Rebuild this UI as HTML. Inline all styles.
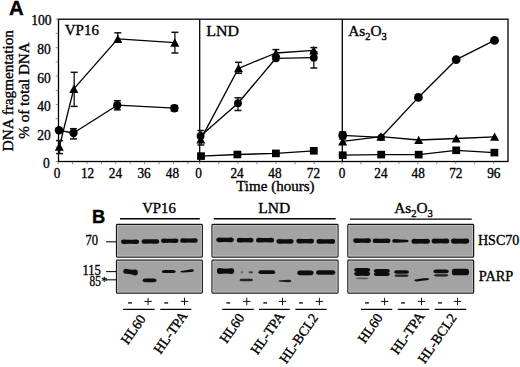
<!DOCTYPE html>
<html><head><meta charset="utf-8"><style>
html,body{margin:0;padding:0;background:#fff;}
body{width:520px;height:367px;overflow:hidden;}
svg{display:block;}
.s{font-family:"Liberation Serif", serif;fill:#000;stroke:#000;stroke-width:0.35px;}
.b{font-family:"Liberation Sans", sans-serif;font-weight:bold;fill:#000;stroke:#000;stroke-width:0.4px;}
</style></head><body>
<svg width="520" height="367" viewBox="0 0 520 367">

<text class="b" font-size="19.5" transform="translate(9.05,14.70) scale(1.046,0.993)">A</text>
<text class="s" font-size="15.2" text-anchor="middle" transform="translate(13.1,90.6) rotate(-90)">DNA fragmentation</text>
<text class="s" font-size="15.2" text-anchor="middle" transform="translate(29.3,90.5) rotate(-90)">% of total DNA</text>
<text class="s" font-size="14.5" transform="translate(64.77,34.70) scale(1.034,0.960)">VP16</text>
<text class="s" font-size="14.5" transform="translate(206.30,35.80) scale(1.100,1.030)">LND</text>
<text class="s" font-size="14.5" transform="translate(348.24,36.21) scale(1.057,0.996)">As<tspan font-size="10" dy="4.00">2</tspan><tspan dy="-4.00">O</tspan><tspan font-size="10" dy="4.00">3</tspan></text>
<text class="s" font-size="14" text-anchor="end" transform="translate(51.6,25.30) scale(0.97,1.0)">100</text>
<text class="s" font-size="14" text-anchor="end" transform="translate(50.9,54.30) scale(0.97,1.0)">80</text>
<text class="s" font-size="14" text-anchor="end" transform="translate(50.9,82.80) scale(0.97,1.0)">60</text>
<text class="s" font-size="14" text-anchor="end" transform="translate(50.9,110.90) scale(0.97,1.0)">40</text>
<text class="s" font-size="14" text-anchor="end" transform="translate(50.9,139.80) scale(0.97,1.0)">20</text>
<text class="s" font-size="14" text-anchor="end" transform="translate(49.7,168.00) scale(0.97,1.0)">0</text>
<text class="s" font-size="14" text-anchor="middle" transform="translate(57.00,177.6) scale(0.95,1.0)">0</text>
<text class="s" font-size="14" text-anchor="middle" transform="translate(87.60,177.6) scale(0.95,1.0)">12</text>
<text class="s" font-size="14" text-anchor="middle" transform="translate(115.40,177.6) scale(0.95,1.0)">24</text>
<text class="s" font-size="14" text-anchor="middle" transform="translate(144.10,177.6) scale(0.95,1.0)">36</text>
<text class="s" font-size="14" text-anchor="middle" transform="translate(172.50,177.6) scale(0.95,1.0)">48</text>
<text class="s" font-size="14" text-anchor="middle" transform="translate(198.50,177.6) scale(0.95,1.0)">0</text>
<text class="s" font-size="14" text-anchor="middle" transform="translate(237.10,177.6) scale(0.95,1.0)">24</text>
<text class="s" font-size="14" text-anchor="middle" transform="translate(275.00,177.6) scale(0.95,1.0)">48</text>
<text class="s" font-size="14" text-anchor="middle" transform="translate(313.40,177.6) scale(0.95,1.0)">72</text>
<text class="s" font-size="14" text-anchor="middle" transform="translate(342.00,177.6) scale(0.95,1.0)">0</text>
<text class="s" font-size="14" text-anchor="middle" transform="translate(381.00,177.6) scale(0.95,1.0)">24</text>
<text class="s" font-size="14" text-anchor="middle" transform="translate(418.20,177.6) scale(0.95,1.0)">48</text>
<text class="s" font-size="14" text-anchor="middle" transform="translate(455.80,177.6) scale(0.95,1.0)">72</text>
<text class="s" font-size="14" text-anchor="middle" transform="translate(493.80,177.6) scale(0.95,1.0)">96</text>
<text class="s" font-size="15" transform="translate(236.20,191.01) scale(1.003,1.031)">Time (hours)</text>
<g stroke="#000" stroke-width="1.3" fill="none">
<rect x="58.5" y="19.2" width="449.5" height="142.3"/>
<line x1="199.7" y1="19.2" x2="199.7" y2="161.5"/>
<line x1="342.3" y1="19.2" x2="342.3" y2="161.5"/>
</g>
<g stroke="#555" stroke-width="0.7">
<line x1="55.7" y1="161.50" x2="58.5" y2="161.50"/>
<line x1="55.7" y1="147.27" x2="58.5" y2="147.27"/>
<line x1="55.7" y1="133.04" x2="58.5" y2="133.04"/>
<line x1="55.7" y1="118.81" x2="58.5" y2="118.81"/>
<line x1="55.7" y1="104.58" x2="58.5" y2="104.58"/>
<line x1="55.7" y1="90.35" x2="58.5" y2="90.35"/>
<line x1="55.7" y1="76.12" x2="58.5" y2="76.12"/>
<line x1="55.7" y1="61.89" x2="58.5" y2="61.89"/>
<line x1="55.7" y1="47.66" x2="58.5" y2="47.66"/>
<line x1="55.7" y1="33.43" x2="58.5" y2="33.43"/>
<line x1="55.7" y1="19.20" x2="58.5" y2="19.20"/>
<line x1="58.20" y1="161.5" x2="58.20" y2="164.1"/>
<line x1="72.60" y1="161.5" x2="72.60" y2="164.1"/>
<line x1="87.00" y1="161.5" x2="87.00" y2="164.1"/>
<line x1="101.40" y1="161.5" x2="101.40" y2="164.1"/>
<line x1="115.80" y1="161.5" x2="115.80" y2="164.1"/>
<line x1="130.20" y1="161.5" x2="130.20" y2="164.1"/>
<line x1="144.60" y1="161.5" x2="144.60" y2="164.1"/>
<line x1="159.00" y1="161.5" x2="159.00" y2="164.1"/>
<line x1="173.40" y1="161.5" x2="173.40" y2="164.1"/>
<line x1="187.80" y1="161.5" x2="187.80" y2="164.1"/>
<line x1="199.70" y1="161.5" x2="199.70" y2="164.1"/>
<line x1="218.78" y1="161.5" x2="218.78" y2="164.1"/>
<line x1="237.86" y1="161.5" x2="237.86" y2="164.1"/>
<line x1="256.94" y1="161.5" x2="256.94" y2="164.1"/>
<line x1="276.02" y1="161.5" x2="276.02" y2="164.1"/>
<line x1="295.10" y1="161.5" x2="295.10" y2="164.1"/>
<line x1="314.18" y1="161.5" x2="314.18" y2="164.1"/>
<line x1="342.00" y1="161.5" x2="342.00" y2="164.1"/>
<line x1="360.96" y1="161.5" x2="360.96" y2="164.1"/>
<line x1="379.92" y1="161.5" x2="379.92" y2="164.1"/>
<line x1="398.88" y1="161.5" x2="398.88" y2="164.1"/>
<line x1="417.84" y1="161.5" x2="417.84" y2="164.1"/>
<line x1="436.80" y1="161.5" x2="436.80" y2="164.1"/>
<line x1="455.76" y1="161.5" x2="455.76" y2="164.1"/>
<line x1="474.72" y1="161.5" x2="474.72" y2="164.1"/>
<line x1="493.68" y1="161.5" x2="493.68" y2="164.1"/>
</g>
<polyline fill="none" stroke="#000" stroke-width="1.35" stroke-linejoin="round" points="59.00,130.30 73.50,133.00 117.30,105.20 174.40,108.20"/>
<polyline fill="none" stroke="#000" stroke-width="1.35" stroke-linejoin="round" points="59.30,146.80 73.80,88.90 117.80,38.90 174.80,42.70"/>
<line x1="73.50" y1="128.70" x2="73.50" y2="138.90" stroke="#111" stroke-width="1.3"/><line x1="70.00" y1="128.70" x2="77.00" y2="128.70" stroke="#111" stroke-width="1.5"/><line x1="70.00" y1="138.90" x2="77.00" y2="138.90" stroke="#111" stroke-width="1.5"/>
<line x1="117.30" y1="100.70" x2="117.30" y2="109.90" stroke="#111" stroke-width="1.3"/><line x1="113.80" y1="100.70" x2="120.80" y2="100.70" stroke="#111" stroke-width="1.5"/><line x1="113.80" y1="109.90" x2="120.80" y2="109.90" stroke="#111" stroke-width="1.5"/>
<line x1="174.40" y1="105.50" x2="174.40" y2="110.90" stroke="#111" stroke-width="1.3"/><line x1="170.70" y1="105.50" x2="178.10" y2="105.50" stroke="#111" stroke-width="1.5"/><line x1="170.70" y1="110.90" x2="178.10" y2="110.90" stroke="#111" stroke-width="1.5"/>
<line x1="59.60" y1="140.60" x2="59.60" y2="153.60" stroke="#111" stroke-width="1.3"/><line x1="56.10" y1="140.60" x2="63.10" y2="140.60" stroke="#111" stroke-width="1.5"/><line x1="56.10" y1="153.60" x2="63.10" y2="153.60" stroke="#111" stroke-width="1.5"/>
<line x1="74.20" y1="72.30" x2="74.20" y2="106.40" stroke="#111" stroke-width="1.3"/><line x1="70.70" y1="72.30" x2="77.70" y2="72.30" stroke="#111" stroke-width="1.5"/><line x1="70.70" y1="106.40" x2="77.70" y2="106.40" stroke="#111" stroke-width="1.5"/>
<line x1="117.80" y1="32.80" x2="117.80" y2="42.00" stroke="#111" stroke-width="1.3"/><line x1="114.30" y1="32.80" x2="121.30" y2="32.80" stroke="#111" stroke-width="1.5"/><line x1="114.30" y1="42.00" x2="121.30" y2="42.00" stroke="#111" stroke-width="1.5"/>
<line x1="174.90" y1="32.30" x2="174.90" y2="53.00" stroke="#111" stroke-width="1.3"/><line x1="171.40" y1="32.30" x2="178.40" y2="32.30" stroke="#111" stroke-width="1.5"/><line x1="171.40" y1="53.00" x2="178.40" y2="53.00" stroke="#111" stroke-width="1.5"/>
<circle cx="59.00" cy="130.30" r="4.2" fill="#000"/>
<circle cx="73.50" cy="133.00" r="4.2" fill="#000"/>
<circle cx="117.30" cy="105.20" r="4.2" fill="#000"/>
<circle cx="174.40" cy="108.20" r="4.2" fill="#000"/>
<path d="M59.30,142.43 L63.80,150.83 L54.80,150.83Z" fill="#000"/>
<path d="M73.80,84.53 L78.30,92.93 L69.30,92.93Z" fill="#000"/>
<path d="M117.80,34.53 L122.30,42.93 L113.30,42.93Z" fill="#000"/>
<path d="M174.80,38.33 L179.30,46.73 L170.30,46.73Z" fill="#000"/>
<polyline fill="none" stroke="#000" stroke-width="1.35" stroke-linejoin="round" points="200.60,136.00 238.00,103.20 275.90,58.30 313.80,57.70"/>
<polyline fill="none" stroke="#000" stroke-width="1.35" stroke-linejoin="round" points="200.80,139.40 238.50,68.30 275.90,53.00 313.80,50.40"/>
<polyline fill="none" stroke="#000" stroke-width="1.35" stroke-linejoin="round" points="201.00,156.10 237.40,154.50 275.90,153.40 313.80,150.80"/>
<line x1="238.50" y1="62.30" x2="238.50" y2="73.30" stroke="#111" stroke-width="1.3"/><line x1="235.00" y1="62.30" x2="242.00" y2="62.30" stroke="#111" stroke-width="1.5"/><line x1="235.00" y1="73.30" x2="242.00" y2="73.30" stroke="#111" stroke-width="1.5"/>
<line x1="238.00" y1="97.80" x2="238.00" y2="110.50" stroke="#111" stroke-width="1.3"/><line x1="234.50" y1="97.80" x2="241.50" y2="97.80" stroke="#111" stroke-width="1.5"/><line x1="234.50" y1="110.50" x2="241.50" y2="110.50" stroke="#111" stroke-width="1.5"/>
<line x1="313.80" y1="52.00" x2="313.80" y2="68.00" stroke="#111" stroke-width="1.3"/><line x1="310.30" y1="52.00" x2="317.30" y2="52.00" stroke="#111" stroke-width="1.5"/><line x1="310.30" y1="68.00" x2="317.30" y2="68.00" stroke="#111" stroke-width="1.5"/>
<line x1="275.90" y1="49.60" x2="275.90" y2="55.00" stroke="#111" stroke-width="1.3"/><line x1="272.40" y1="49.60" x2="279.40" y2="49.60" stroke="#111" stroke-width="1.5"/><line x1="272.40" y1="55.00" x2="279.40" y2="55.00" stroke="#111" stroke-width="1.5"/>
<line x1="200.90" y1="130.50" x2="200.90" y2="145.00" stroke="#111" stroke-width="1.3"/><line x1="197.40" y1="130.50" x2="204.40" y2="130.50" stroke="#111" stroke-width="1.5"/><line x1="197.40" y1="145.00" x2="204.40" y2="145.00" stroke="#111" stroke-width="1.5"/>
<line x1="313.80" y1="47.60" x2="313.80" y2="52.00" stroke="#111" stroke-width="1.3"/><line x1="310.30" y1="47.60" x2="317.30" y2="47.60" stroke="#111" stroke-width="1.5"/><line x1="310.30" y1="52.00" x2="317.30" y2="52.00" stroke="#111" stroke-width="1.5"/>
<circle cx="200.60" cy="136.00" r="3.9" fill="#000"/>
<circle cx="238.00" cy="103.20" r="3.9" fill="#000"/>
<circle cx="275.90" cy="58.30" r="3.9" fill="#000"/>
<circle cx="313.80" cy="57.70" r="3.9" fill="#000"/>
<path d="M200.80,135.03 L205.30,143.43 L196.30,143.43Z" fill="#000"/>
<path d="M238.50,63.93 L243.00,72.33 L234.00,72.33Z" fill="#000"/>
<path d="M275.90,48.63 L280.40,57.03 L271.40,57.03Z" fill="#000"/>
<path d="M313.80,46.03 L318.30,54.43 L309.30,54.43Z" fill="#000"/>
<rect x="197.10" y="152.30" width="7.8" height="7.6" fill="#000"/>
<rect x="233.50" y="150.70" width="7.8" height="7.6" fill="#000"/>
<rect x="272.00" y="149.60" width="7.8" height="7.6" fill="#000"/>
<rect x="309.90" y="147.00" width="7.8" height="7.6" fill="#000"/>
<polyline fill="none" stroke="#000" stroke-width="1.35" stroke-linejoin="round" points="342.70,135.40 381.20,137.30 418.40,97.40 456.20,59.70 494.50,40.40"/>
<polyline fill="none" stroke="#000" stroke-width="1.35" stroke-linejoin="round" points="342.70,141.40 380.90,136.70 418.70,140.00 456.20,138.50 494.60,136.80"/>
<polyline fill="none" stroke="#000" stroke-width="1.35" stroke-linejoin="round" points="342.70,155.20 381.20,154.60 418.70,154.60 456.20,150.30 494.40,152.60"/>
<line x1="342.70" y1="131.90" x2="342.70" y2="139.00" stroke="#111" stroke-width="1.3"/><line x1="339.20" y1="131.90" x2="346.20" y2="131.90" stroke="#111" stroke-width="1.5"/><line x1="339.20" y1="139.00" x2="346.20" y2="139.00" stroke="#111" stroke-width="1.5"/>
<circle cx="342.70" cy="135.40" r="4.4" fill="#000"/>
<circle cx="418.40" cy="97.40" r="4.4" fill="#000"/>
<circle cx="456.20" cy="59.70" r="4.4" fill="#000"/>
<circle cx="494.50" cy="40.40" r="4.4" fill="#000"/>
<circle cx="381.20" cy="137.30" r="3.6" fill="#000"/>
<path d="M342.70,137.03 L347.20,145.43 L338.20,145.43Z" fill="#000"/>
<path d="M380.90,132.33 L385.40,140.73 L376.40,140.73Z" fill="#000"/>
<path d="M418.70,135.63 L423.20,144.03 L414.20,144.03Z" fill="#000"/>
<path d="M456.20,134.13 L460.70,142.53 L451.70,142.53Z" fill="#000"/>
<path d="M494.60,132.43 L499.10,140.83 L490.10,140.83Z" fill="#000"/>
<rect x="338.80" y="151.40" width="7.8" height="7.6" fill="#000"/>
<rect x="377.30" y="150.80" width="7.8" height="7.6" fill="#000"/>
<rect x="414.80" y="150.80" width="7.8" height="7.6" fill="#000"/>
<rect x="452.30" y="146.50" width="7.8" height="7.6" fill="#000"/>
<rect x="490.50" y="148.80" width="7.8" height="7.6" fill="#000"/>
<text class="b" font-size="19.5" transform="translate(91.96,222.90) scale(0.942,0.971)">B</text>
<text class="s" font-size="14.5" transform="translate(142.18,213.20) scale(1.022,0.990)">VP16</text>
<text class="s" font-size="14.5" transform="translate(258.33,213.40) scale(1.071,1.010)">LND</text>
<text class="s" font-size="14.5" transform="translate(394.14,212.84) scale(1.057,0.964)">As<tspan font-size="10" dy="4.00">2</tspan><tspan dy="-4.00">O</tspan><tspan font-size="10" dy="4.00">3</tspan></text>
<text class="s" font-size="14" text-anchor="end" transform="translate(98.0,244.7) scale(0.90,1.02)">70</text>
<text class="s" font-size="14" text-anchor="end" transform="translate(100.9,274.6) scale(0.90,1.0)">115</text>
<text class="s" font-size="14" text-anchor="end" transform="translate(100.9,285.5) scale(0.81,0.98)">85</text>
<text class="s" font-size="13" transform="translate(101.5,284.6) scale(0.85,0.9)">*</text>
<text class="s" font-size="14.5" transform="translate(477.93,244.80) scale(0.971,1.020)">HSC70</text>
<text class="s" font-size="14.5" transform="translate(478.76,281.00) scale(0.990,0.960)">PARP</text>
<rect x="116.50" y="224.40" width="85.80" height="32.60" rx="0.8" fill="#a3a3a3" stroke="#151515" stroke-width="1.25"/>
<rect x="117.50" y="225.40" width="83.80" height="30.60" fill="none" stroke="#c4c4c4" stroke-width="0.8"/>
<rect x="116.50" y="260.20" width="85.80" height="32.80" rx="0.8" fill="#a3a3a3" stroke="#151515" stroke-width="1.25"/>
<rect x="117.50" y="261.20" width="83.80" height="30.80" fill="none" stroke="#c4c4c4" stroke-width="0.8"/>
<rect x="212.00" y="224.40" width="126.00" height="32.60" rx="0.8" fill="#a3a3a3" stroke="#151515" stroke-width="1.25"/>
<rect x="213.00" y="225.40" width="124.00" height="30.60" fill="none" stroke="#c4c4c4" stroke-width="0.8"/>
<rect x="212.00" y="260.20" width="126.00" height="32.80" rx="0.8" fill="#a3a3a3" stroke="#151515" stroke-width="1.25"/>
<rect x="213.00" y="261.20" width="124.00" height="30.80" fill="none" stroke="#c4c4c4" stroke-width="0.8"/>
<rect x="347.90" y="224.40" width="125.70" height="32.60" rx="0.8" fill="#a3a3a3" stroke="#151515" stroke-width="1.25"/>
<rect x="348.90" y="225.40" width="123.70" height="30.60" fill="none" stroke="#c4c4c4" stroke-width="0.8"/>
<rect x="347.90" y="260.20" width="125.70" height="32.80" rx="0.8" fill="#a3a3a3" stroke="#151515" stroke-width="1.25"/>
<rect x="348.90" y="261.20" width="123.70" height="30.80" fill="none" stroke="#c4c4c4" stroke-width="0.8"/>
<g stroke="#000" stroke-width="1.4">
<line x1="120" y1="218.8" x2="199.8" y2="218.8"/>
<line x1="213.8" y1="218.8" x2="335.6" y2="218.8"/>
<line x1="350" y1="219.1" x2="471.8" y2="219.1"/>
</g>
<g stroke="#111" stroke-width="1.1">
<line x1="106.1" y1="241.8" x2="116" y2="241.8"/>
<line x1="106.1" y1="271.6" x2="116" y2="271.6"/>
<line x1="106.0" y1="279.8" x2="116" y2="279.8"/>
</g>
<defs><filter id="bl" x="-10%" y="-50%" width="120%" height="200%"><feGaussianBlur stdDeviation="0.45"/></filter></defs>
<g filter="url(#bl)">
<path d="M123.60,239.44 Q130.05,239.85 136.50,239.44 A2.60,2.25 0 0 1 136.50,243.95 Q130.05,243.54 123.60,243.95 A2.60,2.25 0 0 1 123.60,239.44Z" fill="#0a0a0a" opacity="1.0"/>
<path d="M144.20,239.15 Q150.45,239.56 156.70,239.15 A2.60,2.25 0 0 1 156.70,243.66 Q150.45,243.25 144.20,243.66 A2.60,2.25 0 0 1 144.20,239.15Z" fill="#0a0a0a" opacity="1.0"/>
<path d="M163.60,238.55 Q169.75,238.96 175.90,238.55 A2.60,2.25 0 0 1 175.90,243.06 Q169.75,242.65 163.60,243.06 A2.60,2.25 0 0 1 163.60,238.55Z" fill="#0a0a0a" opacity="1.0"/>
<path d="M182.70,238.25 Q188.95,238.66 195.20,238.25 A2.60,2.25 0 0 1 195.20,242.75 Q188.95,242.34 182.70,242.75 A2.60,2.25 0 0 1 182.70,238.25Z" fill="#0a0a0a" opacity="1.0"/>
<path d="M218.70,237.44 Q225.05,237.87 231.40,237.44 A2.60,2.37 0 0 1 231.40,242.17 Q225.05,241.74 218.70,242.17 A2.60,2.37 0 0 1 218.70,237.44Z" fill="#0a0a0a" opacity="1.0"/>
<path d="M239.10,237.83 Q245.10,238.26 251.10,237.83 A2.60,2.37 0 0 1 251.10,242.56 Q245.10,242.13 239.10,242.56 A2.60,2.37 0 0 1 239.10,237.83Z" fill="#0a0a0a" opacity="1.0"/>
<path d="M258.40,237.83 Q265.10,238.26 271.80,237.83 A2.60,2.37 0 0 1 271.80,242.56 Q265.10,242.13 258.40,242.56 A2.60,2.37 0 0 1 258.40,237.83Z" fill="#0a0a0a" opacity="1.0"/>
<path d="M278.80,238.94 Q285.00,239.37 291.20,238.94 A2.60,2.37 0 0 1 291.20,243.67 Q285.00,243.24 278.80,243.67 A2.60,2.37 0 0 1 278.80,238.94Z" fill="#0a0a0a" opacity="1.0"/>
<path d="M299.00,238.73 Q305.20,239.16 311.40,238.73 A2.60,2.37 0 0 1 311.40,243.47 Q305.20,243.03 299.00,243.47 A2.60,2.37 0 0 1 299.00,238.73Z" fill="#0a0a0a" opacity="1.0"/>
<path d="M319.20,239.03 Q325.80,239.47 332.40,239.03 A2.60,2.37 0 0 1 332.40,243.77 Q325.80,243.34 319.20,243.77 A2.60,2.37 0 0 1 319.20,239.03Z" fill="#0a0a0a" opacity="1.0"/>
<path d="M355.90,238.18 Q362.15,238.62 368.40,238.18 A2.60,2.42 0 0 1 368.40,243.02 Q362.15,242.58 355.90,243.02 A2.60,2.42 0 0 1 355.90,238.18Z" fill="#0a0a0a" opacity="1.0"/>
<path d="M375.30,238.49 Q381.55,238.91 387.80,238.49 A2.60,2.31 0 0 1 387.80,243.11 Q381.55,242.69 375.30,243.11 A2.60,2.31 0 0 1 375.30,238.49Z" fill="#0a0a0a" opacity="1.0"/>
<path d="M394.80,239.03 Q400.45,239.62 406.10,239.64 A2.60,1.26 0 0 1 406.10,242.16 Q400.45,242.18 394.80,242.77 A2.60,1.87 0 0 1 394.80,239.03Z" fill="#0a0a0a" opacity="1.0"/>
<path d="M414.10,238.67 Q420.70,239.13 427.30,238.67 A2.60,2.53 0 0 1 427.30,243.73 Q420.70,243.27 414.10,243.73 A2.60,2.53 0 0 1 414.10,238.67Z" fill="#0a0a0a" opacity="1.0"/>
<path d="M434.20,238.47 Q440.45,238.93 446.70,238.47 A2.60,2.53 0 0 1 446.70,243.53 Q440.45,243.07 434.20,243.53 A2.60,2.53 0 0 1 434.20,238.47Z" fill="#0a0a0a" opacity="1.0"/>
<path d="M453.60,238.57 Q460.10,239.03 466.60,238.57 A2.60,2.53 0 0 1 466.60,243.63 Q460.10,243.17 453.60,243.63 A2.60,2.53 0 0 1 453.60,238.57Z" fill="#0a0a0a" opacity="1.0"/>
<path d="M125.90,268.78 Q130.55,270.10 135.20,269.62 A2.60,2.88 0 0 1 135.20,275.38 Q130.55,273.70 125.90,273.82 A2.60,2.52 0 0 1 125.90,268.78Z" fill="#0a0a0a" opacity="1.0"/>
<path d="M145.20,278.60 Q149.55,278.60 153.90,278.60 A2.60,1.80 0 0 1 153.90,282.20 Q149.55,282.20 145.20,282.20 A2.60,1.80 0 0 1 145.20,278.60Z" fill="#0a0a0a" opacity="1.0"/>
<path d="M164.40,269.90 Q168.75,269.90 173.10,269.90 A2.60,1.60 0 0 1 173.10,273.10 Q168.75,273.10 164.40,273.10 A2.60,1.60 0 0 1 164.40,269.90Z" fill="#0a0a0a" opacity="1.0"/>
<path d="M183.00,270.70 Q187.20,270.00 191.40,269.30 A2.60,1.30 0 0 1 191.40,271.90 Q187.20,272.20 183.00,272.50 A2.60,0.90 0 0 1 183.00,270.70Z" fill="#0a0a0a" opacity="1.0"/>
<path d="M219.50,268.10 Q225.55,269.14 231.60,268.22 A2.60,2.88 0 0 1 231.60,273.98 Q225.55,273.06 219.50,274.10 A2.60,3.00 0 0 1 219.50,268.10Z" fill="#0a0a0a" opacity="1.0"/>
<path d="M242.10,278.80 Q246.20,278.80 250.30,278.80 A2.60,1.20 0 0 1 250.30,281.20 Q246.20,281.20 242.10,281.20 A2.60,1.20 0 0 1 242.10,278.80Z" fill="#0a0a0a" opacity="0.85"/>
<path d="M241.10,271.30 Q241.80,271.30 242.50,271.30 A0.70,0.90 0 0 1 242.50,273.10 Q241.80,273.10 241.10,273.10 A0.70,0.90 0 0 1 241.10,271.30Z" fill="#0a0a0a" opacity="0.35"/>
<path d="M249.70,271.20 Q250.80,271.20 251.90,271.20 A1.10,1.00 0 0 1 251.90,273.20 Q250.80,273.20 249.70,273.20 A1.10,1.00 0 0 1 249.70,271.20Z" fill="#0a0a0a" opacity="0.6"/>
<path d="M261.00,270.35 Q266.80,270.35 272.60,270.35 A2.60,1.85 0 0 1 272.60,274.05 Q266.80,274.05 261.00,274.05 A2.60,1.85 0 0 1 261.00,270.35Z" fill="#0a0a0a" opacity="1.0"/>
<path d="M281.00,280.20 Q284.85,280.00 288.70,279.80 A2.60,1.20 0 0 1 288.70,282.20 Q284.85,282.00 281.00,281.80 A2.60,0.80 0 0 1 281.00,280.20Z" fill="#0a0a0a" opacity="0.9"/>
<path d="M299.90,270.40 Q305.40,270.40 310.90,270.40 A2.60,2.40 0 0 1 310.90,275.20 Q305.40,275.20 299.90,275.20 A2.60,2.40 0 0 1 299.90,270.40Z" fill="#0a0a0a" opacity="1.0"/>
<path d="M318.70,270.35 Q325.70,270.35 332.70,270.35 A2.60,2.25 0 0 1 332.70,274.85 Q325.70,274.85 318.70,274.85 A2.60,2.25 0 0 1 318.70,270.35Z" fill="#0a0a0a" opacity="1.0"/>
<path d="M356.80,267.91 Q362.20,268.29 367.60,267.91 A2.60,2.09 0 0 1 367.60,272.09 Q362.20,271.71 356.80,272.09 A2.60,2.09 0 0 1 356.80,267.91Z" fill="#0a0a0a" opacity="1.0"/>
<path d="M356.80,271.71 Q362.20,272.09 367.60,271.71 A2.60,2.09 0 0 1 367.60,275.89 Q362.20,275.51 356.80,275.89 A2.60,2.09 0 0 1 356.80,271.71Z" fill="#0a0a0a" opacity="1.0"/>
<path d="M358.60,277.60 Q362.15,277.60 365.70,277.60 A2.60,0.80 0 0 1 365.70,279.20 Q362.15,279.20 358.60,279.20 A2.60,0.80 0 0 1 358.60,277.60Z" fill="#0a0a0a" opacity="0.45"/>
<path d="M376.40,269.10 Q381.80,269.10 387.20,269.10 A2.60,1.90 0 0 1 387.20,272.90 Q381.80,272.90 376.40,272.90 A2.60,1.90 0 0 1 376.40,269.10Z" fill="#0a0a0a" opacity="1.0"/>
<path d="M376.40,272.60 Q381.80,272.60 387.20,272.60 A2.60,1.70 0 0 1 387.20,276.00 Q381.80,276.00 376.40,276.00 A2.60,1.70 0 0 1 376.40,272.60Z" fill="#0a0a0a" opacity="1.0"/>
<path d="M396.80,270.30 Q401.60,270.30 406.40,270.30 A2.60,1.70 0 0 1 406.40,273.70 Q401.60,273.70 396.80,273.70 A2.60,1.70 0 0 1 396.80,270.30Z" fill="#0a0a0a" opacity="1.0"/>
<path d="M397.20,274.40 Q401.60,274.40 406.00,274.40 A2.60,1.20 0 0 1 406.00,276.80 Q401.60,276.80 397.20,276.80 A2.60,1.20 0 0 1 397.20,274.40Z" fill="#0a0a0a" opacity="0.85"/>
<path d="M416.90,279.20 Q421.70,278.60 426.50,278.00 A2.60,1.10 0 0 1 426.50,280.20 Q421.70,280.80 416.90,281.40 A2.60,1.10 0 0 1 416.90,279.20Z" fill="#0a0a0a" opacity="1.0"/>
<path d="M436.00,269.60 Q441.10,269.60 446.20,269.60 A2.60,1.80 0 0 1 446.20,273.20 Q441.10,273.20 436.00,273.20 A2.60,1.80 0 0 1 436.00,269.60Z" fill="#0a0a0a" opacity="1.0"/>
<path d="M436.60,274.20 Q441.20,274.20 445.80,274.20 A2.60,1.10 0 0 1 445.80,276.40 Q441.20,276.40 436.60,276.40 A2.60,1.10 0 0 1 436.60,274.20Z" fill="#0a0a0a" opacity="0.85"/>
<path d="M454.40,268.64 Q460.45,268.96 466.50,268.64 A2.60,3.36 0 0 1 466.50,275.36 Q460.45,275.04 454.40,275.36 A2.60,3.36 0 0 1 454.40,268.64Z" fill="#0a0a0a" opacity="1.0"/>
</g>
<g stroke="#111" stroke-width="1.2">
<line x1="128.10" y1="302.9" x2="131.90" y2="302.9" stroke-width="1.4"/>
<line x1="144.40" y1="301.4" x2="151.80" y2="301.4" stroke-width="1.0"/>
<line x1="148.10" y1="297.8" x2="148.10" y2="305.2" stroke-width="1.0"/>
<line x1="164.30" y1="302.9" x2="168.10" y2="302.9" stroke-width="1.4"/>
<line x1="180.80" y1="301.4" x2="188.20" y2="301.4" stroke-width="1.0"/>
<line x1="184.50" y1="297.8" x2="184.50" y2="305.2" stroke-width="1.0"/>
<line x1="226.40" y1="302.9" x2="230.20" y2="302.9" stroke-width="1.4"/>
<line x1="243.10" y1="301.4" x2="250.50" y2="301.4" stroke-width="1.0"/>
<line x1="246.80" y1="297.8" x2="246.80" y2="305.2" stroke-width="1.0"/>
<line x1="263.30" y1="302.9" x2="267.10" y2="302.9" stroke-width="1.4"/>
<line x1="278.80" y1="301.4" x2="286.20" y2="301.4" stroke-width="1.0"/>
<line x1="282.50" y1="297.8" x2="282.50" y2="305.2" stroke-width="1.0"/>
<line x1="299.10" y1="302.9" x2="302.90" y2="302.9" stroke-width="1.4"/>
<line x1="315.70" y1="301.4" x2="323.10" y2="301.4" stroke-width="1.0"/>
<line x1="319.40" y1="297.8" x2="319.40" y2="305.2" stroke-width="1.0"/>
<line x1="365.10" y1="302.9" x2="368.90" y2="302.9" stroke-width="1.4"/>
<line x1="380.90" y1="301.4" x2="388.30" y2="301.4" stroke-width="1.0"/>
<line x1="384.60" y1="297.8" x2="384.60" y2="305.2" stroke-width="1.0"/>
<line x1="401.10" y1="302.9" x2="404.90" y2="302.9" stroke-width="1.4"/>
<line x1="417.80" y1="301.4" x2="425.20" y2="301.4" stroke-width="1.0"/>
<line x1="421.50" y1="297.8" x2="421.50" y2="305.2" stroke-width="1.0"/>
<line x1="438.10" y1="302.9" x2="441.90" y2="302.9" stroke-width="1.4"/>
<line x1="453.80" y1="301.4" x2="461.20" y2="301.4" stroke-width="1.0"/>
<line x1="457.50" y1="297.8" x2="457.50" y2="305.2" stroke-width="1.0"/>
</g>
<g stroke="#000" stroke-width="1.25">
<line x1="123.1" y1="309.4" x2="154.6" y2="309.4"/>
<line x1="160.3" y1="309.4" x2="191.3" y2="309.4"/>
<line x1="222.2" y1="309.4" x2="253.8" y2="309.4"/>
<line x1="259" y1="309.4" x2="289.8" y2="309.4"/>
<line x1="295.4" y1="309.4" x2="326.8" y2="309.4"/>
<line x1="361" y1="309.4" x2="392.3" y2="309.4"/>
<line x1="397.8" y1="309.4" x2="429.2" y2="309.4"/>
<line x1="434.8" y1="309.4" x2="466.2" y2="309.4"/>
</g>
<text class="s" font-size="13.8" text-anchor="end" transform="translate(146.30,318.90) rotate(-55)">HL60</text>
<text class="s" font-size="13.8" text-anchor="end" transform="translate(188.00,315.50) rotate(-55)">HL-TPA</text>
<text class="s" font-size="13.8" text-anchor="end" transform="translate(244.90,317.70) rotate(-55)">HL60</text>
<text class="s" font-size="13.8" text-anchor="end" transform="translate(284.90,316.20) rotate(-55)">HL-TPA</text>
<text class="s" font-size="13.8" text-anchor="end" transform="translate(318.80,317.70) rotate(-55)">HL-BCL2</text>
<text class="s" font-size="13.8" text-anchor="end" transform="translate(383.30,317.70) rotate(-55)">HL60</text>
<text class="s" font-size="13.8" text-anchor="end" transform="translate(424.90,316.20) rotate(-55)">HL-TPA</text>
<text class="s" font-size="13.8" text-anchor="end" transform="translate(457.30,317.70) rotate(-55)">HL-BCL2</text>
</svg></body></html>
